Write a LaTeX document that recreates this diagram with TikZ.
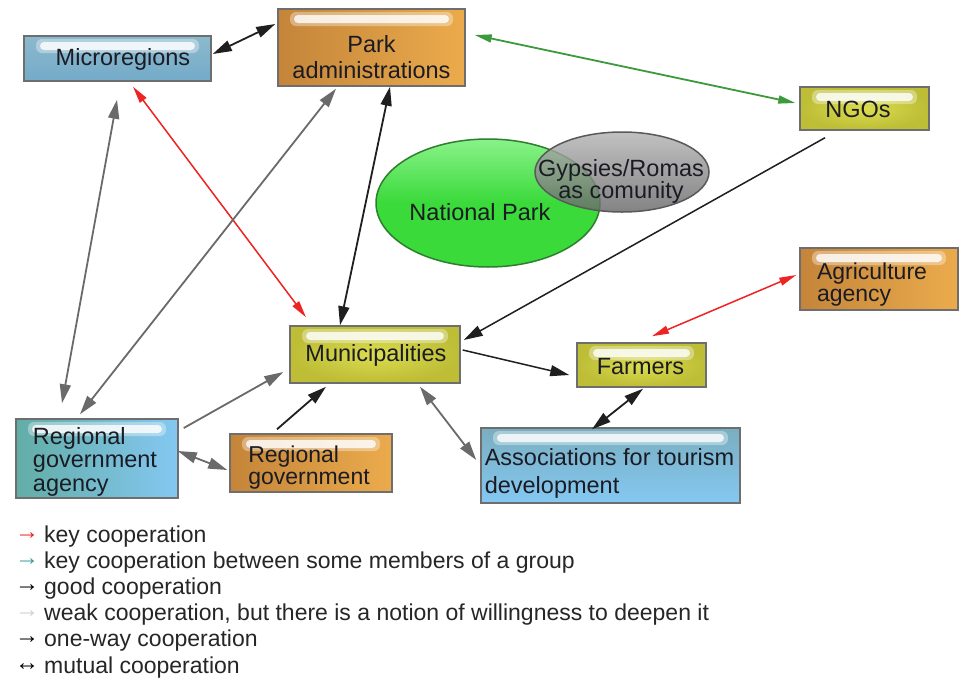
\documentclass[tikz,border=0pt]{standalone}
\usepackage{fontspec}
\setmainfont{Liberation Sans}
\usetikzlibrary{arrows.meta,shapes.geometric,calc}
\definecolor{bdr}{HTML}{6E6E6E}
\definecolor{txt}{HTML}{1B1B24}
\definecolor{blueA}{HTML}{8CB9CD}
\definecolor{blueB}{HTML}{74ABC9}
\definecolor{orA}{HTML}{C4853A}
\definecolor{orB}{HTML}{EBAB4C}
\definecolor{yeA}{HTML}{BDBD36}
\definecolor{yeB}{HTML}{DCDC50}
\definecolor{tealA}{HTML}{62ADA6}
\definecolor{skyB}{HTML}{84C8F2}
\definecolor{assA}{HTML}{7AAEC0}
\definecolor{gA}{HTML}{8AF28A}
\definecolor{gB}{HTML}{3ADA3A}
\definecolor{gBd}{HTML}{2C7F2C}
\definecolor{grayT}{HTML}{B4B4B4}
\definecolor{grayE}{HTML}{686868}
\definecolor{lred}{HTML}{EE2424}
\definecolor{lgreen}{HTML}{3C9A3C}
\definecolor{lgray}{HTML}{6A6A6A}
\definecolor{lteal}{HTML}{3A9E9E}
\definecolor{lwhite}{HTML}{CFCFCF}
\newcommand{\bigfont}{\fontsize{23.5}{26}\selectfont}
\newcommand{\legarrow}[2]{\makebox[29pt][l]{\raisebox{2.5pt}{\fontsize{24}{24}\selectfont\color{#1}#2}}}
\begin{document}
\begin{tikzpicture}[x=1pt,y=-1pt,
  box/.style={draw=bdr, line width=1.5pt, inner sep=0pt,
    path picture={
      \fill[white,opacity=0.35,rounded corners=6pt]
      ([xshift=12pt,yshift=-3pt]path picture bounding box.north west) rectangle
      ([xshift=-12pt,yshift=-17pt]path picture bounding box.north east);
      \fill[white,opacity=0.8,rounded corners=4pt]
      ([xshift=16pt,yshift=-6pt]path picture bounding box.north west) rectangle
      ([xshift=-16pt,yshift=-14pt]path picture bounding box.north east);}},
  bluebox/.style={box, top color=blueA, bottom color=blueB},
  orbox/.style={box, left color=orA, right color=orB},
  yebox/.style={box, inner color=yeB, outer color=yeA},
  lbl/.style={font=\bigfont, text=txt, inner sep=0pt},
  legtxt/.style={font=\fontsize{23}{26}\selectfont, text=black!85, inner sep=0pt, anchor=base west},
  mutual/.style={{Triangle[length=19pt,width=11pt]}-{Triangle[length=19pt,width=11pt]}},
  oneway/.style={-{Triangle[length=19pt,width=11pt]}},
  mutsmall/.style={{Triangle[length=17pt,width=8pt]}-{Triangle[length=17pt,width=8pt]}},
  blk/.style={draw=black!88, fill=black!88, line width=1.8pt},
  gry/.style={draw=lgray, fill=lgray, line width=1.8pt},
  redl/.style={draw=lred, fill=lred, line width=1.5pt},
  grnl/.style={draw=lgreen, fill=lgreen, line width=1.8pt}
]
\useasboundingbox (0,0) rectangle (959,681);
\fill[white] (0,0) rectangle (959,681);

% ellipses
\node[ellipse, draw=gBd, line width=1.5pt, top color=gA, bottom color=gB, middle color=gB,
      minimum width=224pt, minimum height=128pt, inner sep=0pt] (np) at (488,203) {};
\node[ellipse, draw=black!65, line width=1.5pt, top color=grayT, bottom color=grayE, fill opacity=0.82,
      minimum width=174pt, minimum height=80pt, inner sep=0pt] (gy) at (622,172) {};
\node[lbl] (npT) at ($(np.center)+(-8,9)$) {National Park};
\node[lbl, align=center, font=\fontsize{23.5}{22}\selectfont] (gyT) at ($(gy.center)+(-1,9)$) {Gypsies/Romas\\as comunity};

% boxes
\node[bluebox, minimum width=187pt, minimum height=45pt] (micro) at (117.5,58.5) {};
\node[lbl] (microT) at ($(micro.center)+(5.5,1)$) {Microregions};

\node[orbox, minimum width=187pt, minimum height=77pt] (park) at (371.5,47.5) {};
\node[lbl, align=center] (parkT) at ($(park.center)+(0,9.5)$) {Park\\administrations};

\node[yebox, minimum width=129pt, minimum height=43pt] (ngo) at (864.5,108.5) {};
\node[lbl] (ngoT) at ($(ngo.center)+(-6.5,0.5)$) {NGOs};

\node[orbox, minimum width=158pt, minimum height=62pt] (agri) at (879,279) {};
\node[lbl, align=left, font=\fontsize{23}{22}\selectfont] (agriT) at ($(agri.center)+(-7,6)$) {Agriculture\\agency};

\node[yebox, minimum width=170pt, minimum height=57pt] (mun) at (375,354.5) {};
\node[lbl] (munT) at ($(mun.center)+(1,0.5)$) {Municipalities};

\node[yebox, minimum width=129pt, minimum height=44pt] (farm) at (641.5,365) {};
\node[lbl] (farmT) at ($(farm.center)+(-1,1.5)$) {Farmers};

\node[box, left color=tealA, right color=skyB, minimum width=162pt, minimum height=79pt] (agency) at (97,458.5) {};
\node[lbl, align=left, font=\fontsize{23.5}{23.5}\selectfont] (agencyT) at ($(agency.center)+(-2,3)$) {Regional\\government\\agency};

\node[orbox, minimum width=162pt, minimum height=58pt] (reggov) at (311,463) {};
\node[lbl, align=left, font=\fontsize{23}{22}\selectfont] (reggovT) at ($(reggov.center)+(-2,4.5)$) {Regional\\government};

\node[box, top color=assA, bottom color=skyB, minimum width=259pt, minimum height=75pt] (assoc) at (610.5,465.5) {};
\node[lbl, align=left, font=\fontsize{23.5}{28}\selectfont] (assocT) at ($(assoc.center)+(-1,7.5)$) {Associations for tourism\\development};

% connectors
\draw[blk, mutual] ($(micro.east)+(1,-4.5)$) -- ($(park.west)+(-2,-23.5)$);
\draw[grnl, mutsmall] ($(park.east)+(9,-12.5)$) -- ($(ngo.west)+(-4,-5.5)$);
\draw[redl, mutsmall] ($(micro.south)+(15.5,5)$) -- ($(mun.north)+(-69,-8)$);
\draw[gry, mutual] ($(agency.north)+(-35,-15)$) -- ($(micro.south)+(-0.5,18)$);
\draw[gry, mutual] ($(agency.north)+(-17,-4)$) -- ($(park.south)+(-35.5,2)$);
\draw[blk, mutual] ($(park.south)+(18.5,0)$) -- ($(mun.north)+(-35,0)$);
\draw[blk, oneway, line width=1.5pt] ($(ngo.south)+(-39.5,7)$) -- ($(mun.east)+(3,-14.5)$);
\draw[blk, oneway, line width=1.5pt] ($(mun.east)+(2,-4.5)$) -- ($(farm.west)+(-7,10)$);
\draw[redl, mutsmall] ($(agri.west)+(-3,-4)$) -- ($(farm.north)+(10.5,-6)$);
\draw[blk, mutual] ($(farm.south)+(1.5,1)$) -- ($(assoc.north)+(-18.5,2)$);
\draw[gry, mutual] ($(mun.south)+(45,3)$) -- ($(assoc.west)+(-4,-5.5)$);
\draw[gry, oneway] ($(agency.east)+(5,-30.5)$) -- ($(mun.west)+(-6,17.5)$);
\draw[blk, oneway] ($(reggov.north)+(-34,-4)$) -- ($(mun.south)+(-49,3)$);
\draw[gry, mutual] ($(agency.east)+(-1,-7.5)$) -- ($(reggov.west)+(-2,7)$);

% legend
\node[legtxt] (lg1) at (15,542) {\legarrow{lred}{→}key cooperation};
\node[legtxt] (lg2) at (15,568) {\legarrow{lteal}{→}key cooperation between some members of a group};
\node[legtxt] (lg3) at (15,594) {\legarrow{black}{→}good cooperation};
\node[legtxt] (lg4) at (15,620) {\legarrow{lwhite}{→}weak cooperation, but there is a notion of willingness to deepen it};
\node[legtxt] (lg5) at (15,646) {\legarrow{black}{→}one-way cooperation};
\node[legtxt] (lg6) at (15,673) {\legarrow{black}{↔}mutual cooperation};
\end{tikzpicture}
\end{document}
